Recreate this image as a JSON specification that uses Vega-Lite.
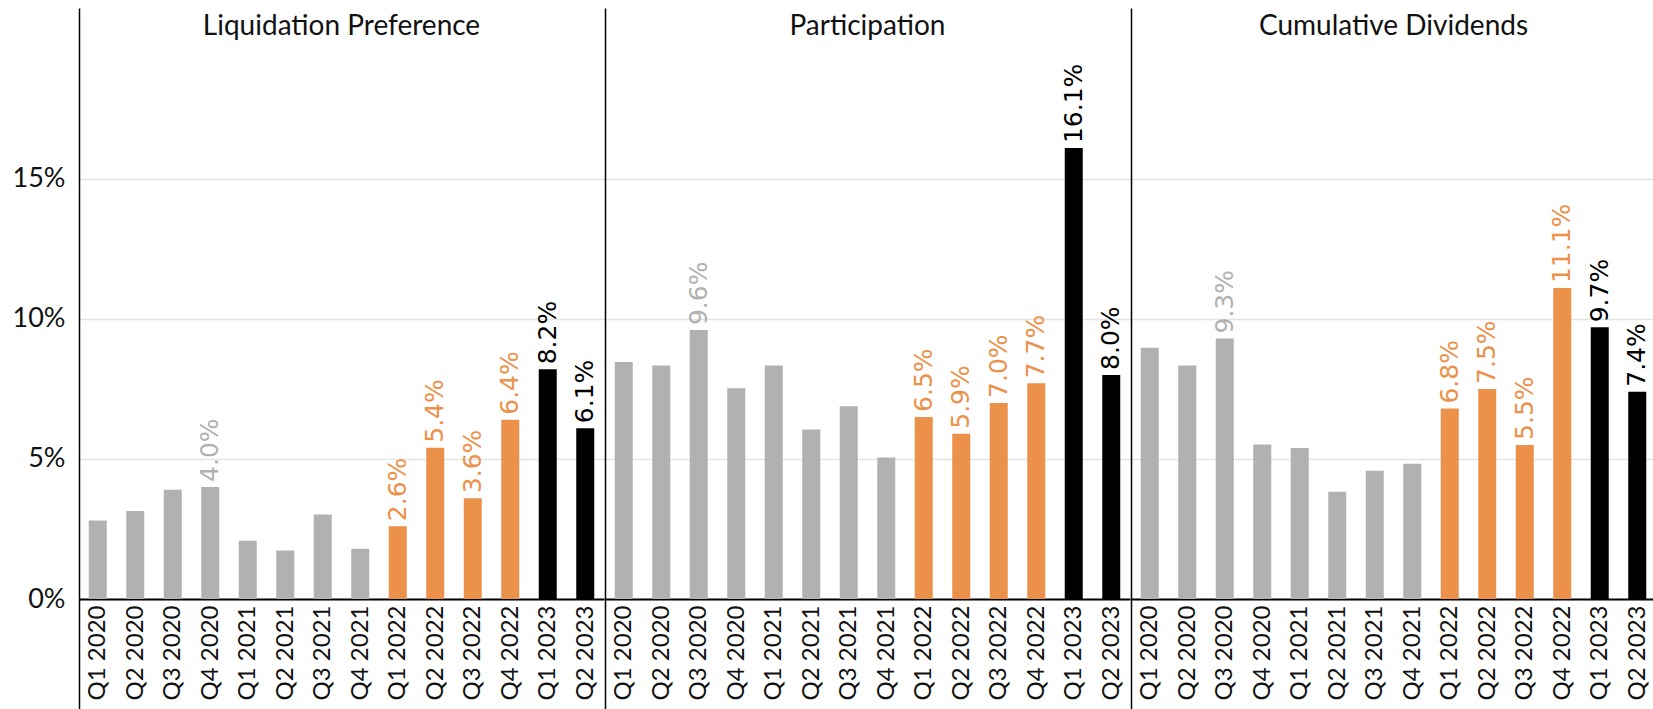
{
  "$schema": "https://vega.github.io/schema/vega-lite/v6.json",
  "padding": {"left": 12, "top": 8, "right": 0, "bottom": 0},
  "background": "white",
  "spacing": 0,
  "config": {
    "view": {"stroke": null},
    "font": "Lato",
    "title": {"font": "Lato", "fontSize": 28, "fontWeight": 400, "color": "#111111", "anchor": "middle", "frame": "group", "offset": -33}
  },
  "data": {
    "values": [
      {"metric": "Liquidation Preference", "quarter": "Q1 2020", "value": 0.028, "period": "2020-2021", "show": false},
      {"metric": "Liquidation Preference", "quarter": "Q2 2020", "value": 0.0314, "period": "2020-2021", "show": false},
      {"metric": "Liquidation Preference", "quarter": "Q3 2020", "value": 0.039, "period": "2020-2021", "show": false},
      {"metric": "Liquidation Preference", "quarter": "Q4 2020", "value": 0.040, "period": "2020-2021", "show": true},
      {"metric": "Liquidation Preference", "quarter": "Q1 2021", "value": 0.0208, "period": "2020-2021", "show": false},
      {"metric": "Liquidation Preference", "quarter": "Q2 2021", "value": 0.0173, "period": "2020-2021", "show": false},
      {"metric": "Liquidation Preference", "quarter": "Q3 2021", "value": 0.0302, "period": "2020-2021", "show": false},
      {"metric": "Liquidation Preference", "quarter": "Q4 2021", "value": 0.0179, "period": "2020-2021", "show": false},
      {"metric": "Liquidation Preference", "quarter": "Q1 2022", "value": 0.026, "period": "2022", "show": true},
      {"metric": "Liquidation Preference", "quarter": "Q2 2022", "value": 0.054, "period": "2022", "show": true},
      {"metric": "Liquidation Preference", "quarter": "Q3 2022", "value": 0.036, "period": "2022", "show": true},
      {"metric": "Liquidation Preference", "quarter": "Q4 2022", "value": 0.064, "period": "2022", "show": true},
      {"metric": "Liquidation Preference", "quarter": "Q1 2023", "value": 0.082, "period": "2023", "show": true},
      {"metric": "Liquidation Preference", "quarter": "Q2 2023", "value": 0.061, "period": "2023", "show": true},

      {"metric": "Participation", "quarter": "Q1 2020", "value": 0.0846, "period": "2020-2021", "show": false},
      {"metric": "Participation", "quarter": "Q2 2020", "value": 0.0834, "period": "2020-2021", "show": false},
      {"metric": "Participation", "quarter": "Q3 2020", "value": 0.096, "period": "2020-2021", "show": true},
      {"metric": "Participation", "quarter": "Q4 2020", "value": 0.0752, "period": "2020-2021", "show": false},
      {"metric": "Participation", "quarter": "Q1 2021", "value": 0.0834, "period": "2020-2021", "show": false},
      {"metric": "Participation", "quarter": "Q2 2021", "value": 0.0605, "period": "2020-2021", "show": false},
      {"metric": "Participation", "quarter": "Q3 2021", "value": 0.0688, "period": "2020-2021", "show": false},
      {"metric": "Participation", "quarter": "Q4 2021", "value": 0.0505, "period": "2020-2021", "show": false},
      {"metric": "Participation", "quarter": "Q1 2022", "value": 0.065, "period": "2022", "show": true},
      {"metric": "Participation", "quarter": "Q2 2022", "value": 0.059, "period": "2022", "show": true},
      {"metric": "Participation", "quarter": "Q3 2022", "value": 0.070, "period": "2022", "show": true},
      {"metric": "Participation", "quarter": "Q4 2022", "value": 0.077, "period": "2022", "show": true},
      {"metric": "Participation", "quarter": "Q1 2023", "value": 0.161, "period": "2023", "show": true},
      {"metric": "Participation", "quarter": "Q2 2023", "value": 0.080, "period": "2023", "show": true},

      {"metric": "Cumulative Dividends", "quarter": "Q1 2020", "value": 0.0897, "period": "2020-2021", "show": false},
      {"metric": "Cumulative Dividends", "quarter": "Q2 2020", "value": 0.0834, "period": "2020-2021", "show": false},
      {"metric": "Cumulative Dividends", "quarter": "Q3 2020", "value": 0.093, "period": "2020-2021", "show": true},
      {"metric": "Cumulative Dividends", "quarter": "Q4 2020", "value": 0.0552, "period": "2020-2021", "show": false},
      {"metric": "Cumulative Dividends", "quarter": "Q1 2021", "value": 0.0539, "period": "2020-2021", "show": false},
      {"metric": "Cumulative Dividends", "quarter": "Q2 2021", "value": 0.0383, "period": "2020-2021", "show": false},
      {"metric": "Cumulative Dividends", "quarter": "Q3 2021", "value": 0.0458, "period": "2020-2021", "show": false},
      {"metric": "Cumulative Dividends", "quarter": "Q4 2021", "value": 0.0483, "period": "2020-2021", "show": false},
      {"metric": "Cumulative Dividends", "quarter": "Q1 2022", "value": 0.068, "period": "2022", "show": true},
      {"metric": "Cumulative Dividends", "quarter": "Q2 2022", "value": 0.075, "period": "2022", "show": true},
      {"metric": "Cumulative Dividends", "quarter": "Q3 2022", "value": 0.055, "period": "2022", "show": true},
      {"metric": "Cumulative Dividends", "quarter": "Q4 2022", "value": 0.111, "period": "2022", "show": true},
      {"metric": "Cumulative Dividends", "quarter": "Q1 2023", "value": 0.097, "period": "2023", "show": true},
      {"metric": "Cumulative Dividends", "quarter": "Q2 2023", "value": 0.074, "period": "2023", "show": true}
    ]
  },
  "hconcat": [
    {
      "title": "Liquidation Preference",
      "width": 525,
      "height": 591,
      "transform": [{"filter": "datum.metric === 'Liquidation Preference'"}],
      "encoding": {
        "x": {
          "field": "quarter", "type": "nominal", "sort": null,
          "scale": {"paddingInner": 0.52, "paddingOuter": 0.26},
          "axis": {
            "title": null, "labelAngle": -90, "labelFont": "Lato", "labelFontSize": 24, "labelColor": "#111111",
            "domainColor": "#000000", "domainWidth": 2,
            "tickSize": 110, "tickWidth": 1.5, "tickOffset": -18.75, "labelOffset": 18.75, "labelPadding": -104,
            "tickColor": {"condition": {"test": "datum.value === 'Q1 2020'", "value": "#000000"}, "value": "transparent"}
          }
        },
        "y": {
          "field": "value", "type": "quantitative",
          "scale": {"domain": [0, 0.211], "nice": false},
          "axis": {
            "title": null, "values": [0, 0.05, 0.1, 0.15], "format": ".0%", "labelFont": "Lato", "labelFontSize": 27,
            "labelColor": "#111111", "labelPadding": 14, "ticks": false, "domainColor": "#000000", "domainWidth": 1.5,
            "gridColor": "#e4e4e4", "gridWidth": 1.5
          }
        },
        "color": {
          "field": "period", "type": "nominal", "legend": null,
          "scale": {"domain": ["2020-2021", "2022", "2023"], "range": ["#b1b1b1", "#ec914a", "#000000"]}
        }
      },
      "layer": [
        {"mark": {"type": "bar"}},
        {
          "transform": [{"filter": "datum.show"}],
          "mark": {"type": "text", "angle": 270, "align": "left", "baseline": "middle", "dx": 5, "font": "DejaVu Sans", "fontSize": 25},
          "encoding": {
            "text": {"field": "value", "type": "quantitative", "format": ".1%"},
            "fontWeight": {"condition": {"test": "datum.period === '2023'", "value": "bold"}, "value": "normal"}
          }
        }
      ]
    },
    {
      "title": "Participation",
      "width": 525,
      "height": 591,
      "transform": [{"filter": "datum.metric === 'Participation'"}],
      "encoding": {
        "x": {
          "field": "quarter", "type": "nominal", "sort": null,
          "scale": {"paddingInner": 0.52, "paddingOuter": 0.26},
          "axis": {
            "title": null, "labelAngle": -90, "labelFont": "Lato", "labelFontSize": 24, "labelColor": "#111111",
            "domainColor": "#000000", "domainWidth": 2,
            "tickSize": 110, "tickWidth": 1.5, "tickOffset": -18.75, "labelOffset": 18.75, "labelPadding": -104,
            "tickColor": {"condition": {"test": "datum.value === 'Q1 2020'", "value": "#000000"}, "value": "transparent"}
          }
        },
        "y": {
          "field": "value", "type": "quantitative",
          "scale": {"domain": [0, 0.211], "nice": false},
          "axis": {
            "title": null, "values": [0, 0.05, 0.1, 0.15], "labels": false, "ticks": false,
            "domainColor": "#000000", "domainWidth": 1.5, "gridColor": "#e4e4e4", "gridWidth": 1.5
          }
        },
        "color": {
          "field": "period", "type": "nominal", "legend": null,
          "scale": {"domain": ["2020-2021", "2022", "2023"], "range": ["#b1b1b1", "#ec914a", "#000000"]}
        }
      },
      "layer": [
        {"mark": {"type": "bar"}},
        {
          "transform": [{"filter": "datum.show"}],
          "mark": {"type": "text", "angle": 270, "align": "left", "baseline": "middle", "dx": 5, "font": "DejaVu Sans", "fontSize": 25},
          "encoding": {
            "text": {"field": "value", "type": "quantitative", "format": ".1%"},
            "fontWeight": {"condition": {"test": "datum.period === '2023'", "value": "bold"}, "value": "normal"}
          }
        }
      ]
    },
    {
      "title": "Cumulative Dividends",
      "width": 525,
      "height": 591,
      "transform": [{"filter": "datum.metric === 'Cumulative Dividends'"}],
      "encoding": {
        "x": {
          "field": "quarter", "type": "nominal", "sort": null,
          "scale": {"paddingInner": 0.52, "paddingOuter": 0.26},
          "axis": {
            "title": null, "labelAngle": -90, "labelFont": "Lato", "labelFontSize": 24, "labelColor": "#111111",
            "domainColor": "#000000", "domainWidth": 2,
            "tickSize": 110, "tickWidth": 1.5, "tickOffset": -18.75, "labelOffset": 18.75, "labelPadding": -104,
            "tickColor": {"condition": {"test": "datum.value === 'Q1 2020'", "value": "#000000"}, "value": "transparent"}
          }
        },
        "y": {
          "field": "value", "type": "quantitative",
          "scale": {"domain": [0, 0.211], "nice": false},
          "axis": {
            "title": null, "values": [0, 0.05, 0.1, 0.15], "labels": false, "ticks": false,
            "domainColor": "#000000", "domainWidth": 1.5, "gridColor": "#e4e4e4", "gridWidth": 1.5
          }
        },
        "color": {
          "field": "period", "type": "nominal", "legend": null,
          "scale": {"domain": ["2020-2021", "2022", "2023"], "range": ["#b1b1b1", "#ec914a", "#000000"]}
        }
      },
      "layer": [
        {"mark": {"type": "bar"}},
        {
          "transform": [{"filter": "datum.show"}],
          "mark": {"type": "text", "angle": 270, "align": "left", "baseline": "middle", "dx": 5, "font": "DejaVu Sans", "fontSize": 25},
          "encoding": {
            "text": {"field": "value", "type": "quantitative", "format": ".1%"},
            "fontWeight": {"condition": {"test": "datum.period === '2023'", "value": "bold"}, "value": "normal"}
          }
        }
      ]
    }
  ]
}
